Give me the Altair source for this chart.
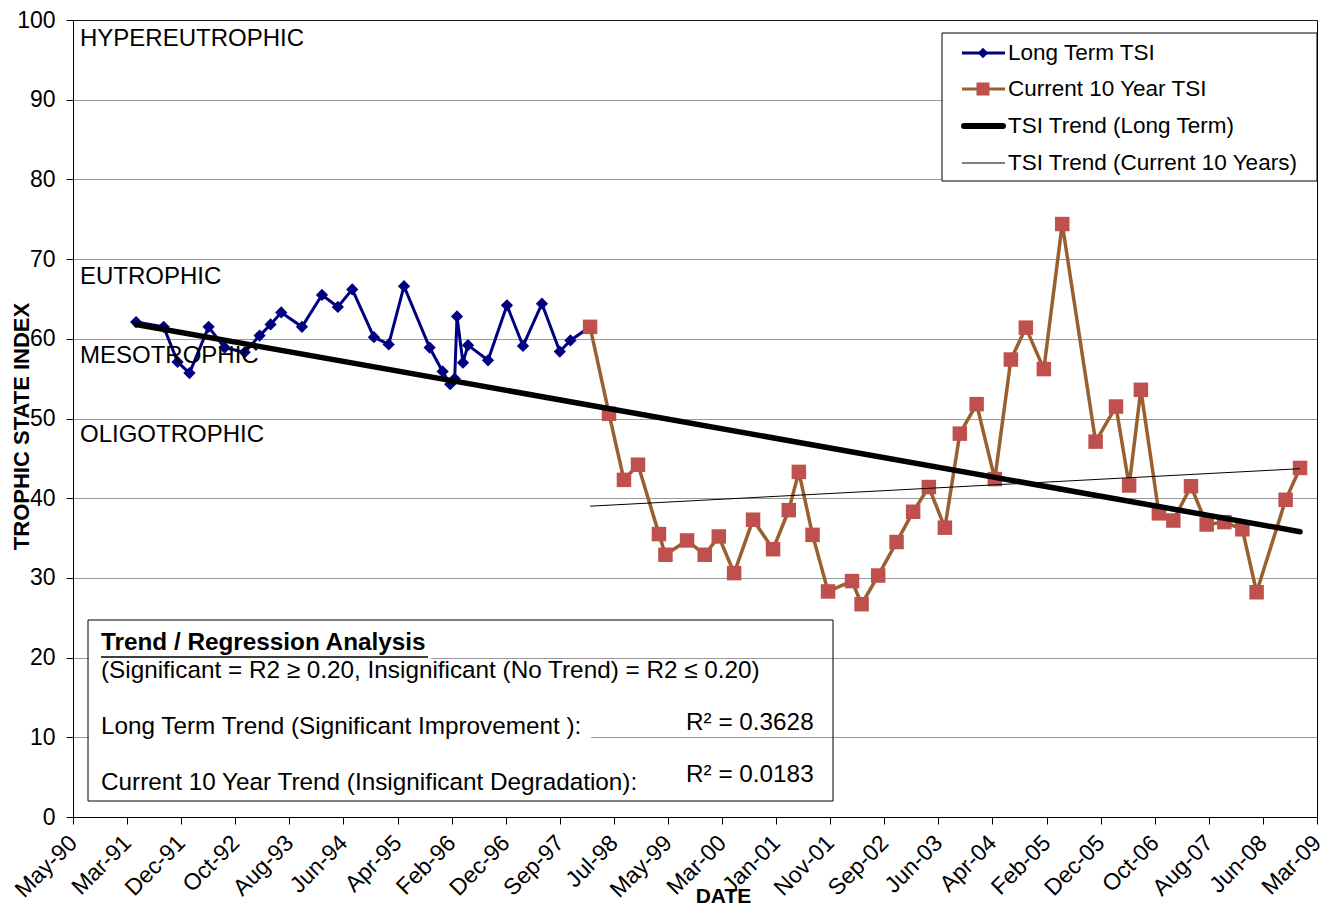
import altair as alt
import pandas as pd

FONT = "Liberation Sans, Arial, sans-serif"

# ---------------- data ----------------
blue_dates = ["1991-04-22", "1991-09-22", "1991-12-08", "1992-02-12", "1992-05-28",
              "1992-08-25", "1992-12-14", "1993-03-07", "1993-05-07", "1993-07-05",
              "1993-10-28", "1994-02-16", "1994-05-15", "1994-08-03", "1994-12-01",
              "1995-02-21", "1995-05-17", "1995-10-06", "1995-12-17", "1996-01-28",
              "1996-02-22", "1996-03-06", "1996-04-08", "1996-05-06", "1996-08-25",
              "1996-12-08", "1997-03-07", "1997-06-20", "1997-09-27", "1997-11-25",
              "1998-03-14"]
blue_tsi = [62.1, 61.5, 57.1, 55.7, 61.5,
            58.9, 58.3, 60.4, 61.8, 63.3,
            61.5, 65.5, 64.0, 66.2, 60.2,
            59.3, 66.6, 58.9, 55.9, 54.3,
            55.0, 62.8, 57.0, 59.2, 57.3,
            64.2, 59.1, 64.4, 58.4, 59.8,
            61.5]

red_dates = ["1998-03-14", "1998-06-27", "1998-09-18", "1998-12-05", "1999-03-31",
             "1999-05-06", "1999-09-03", "1999-12-10", "2000-02-26", "2000-05-21",
             "2000-09-03", "2000-12-23", "2001-03-20", "2001-05-15", "2001-07-30",
             "2001-10-24", "2002-03-06", "2002-04-28", "2002-07-29", "2002-11-08",
             "2003-02-08", "2003-05-06", "2003-08-03", "2003-10-25", "2004-01-26",
             "2004-05-06", "2004-08-03", "2004-10-25", "2005-02-02", "2005-05-15",
             "2005-11-16", "2006-03-09", "2006-05-21", "2006-07-25", "2006-11-02",
             "2007-01-21", "2007-04-29", "2007-07-25", "2007-10-31", "2008-02-08",
             "2008-04-27", "2008-10-05", "2008-12-24"]
red_tsi = [61.5, 50.6, 42.3, 44.2, 35.5,
           32.9, 34.7, 32.9, 35.2, 30.6,
           37.3, 33.6, 38.5, 43.3, 35.4,
           28.3, 29.6, 26.7, 30.3, 34.5,
           38.3, 41.4, 36.3, 48.1, 51.8,
           42.4, 57.4, 61.4, 56.2, 74.4,
           47.1, 51.5, 41.6, 53.6, 38.1,
           37.2, 41.5, 36.7, 37.0, 36.1,
           28.2, 39.8, 43.8]

trend_long_dates = ["1991-04-22", "2008-12-24"]
trend_long_tsi = [61.8, 35.8]
trend_10_dates = ["1998-03-14", "2008-12-24"]
trend_10_tsi = [39.0, 43.7]

zone_names = ["HYPEREUTROPHIC", "EUTROPHIC", "MESOTROPHIC", "OLIGOTROPHIC"]
zone_label_tsi = [97.6, 67.7, 57.8, 47.9]

legend_labels = ["Long Term TSI", "Current 10 Year TSI",
                 "TSI Trend (Long Term)", "TSI Trend (Current 10 Years)"]

box_title = "Trend / Regression Analysis"
box_rule = "(Significant = R2 \u2265 0.20, Insignificant (No Trend) = R2 \u2264 0.20)"
box_long = "Long Term Trend (Significant Improvement ):"
box_long_r2 = "R\u00b2 = 0.3628"
box_cur = "Current 10 Year Trend (Insignificant Degradation):"
box_cur_r2 = "R\u00b2 = 0.0183"

# Excel date axis: starts at serial 33000 (1990-05-07), major unit 300 days
axis_start = pd.Timestamp("1990-05-07")
tick_dates = [axis_start + pd.Timedelta(days=300 * i) for i in range(24)]


def dt(ts):
    return alt.DateTime(year=ts.year, month=ts.month, date=ts.day, utc=True)


# ---------------- frames ----------------
blue_df = pd.DataFrame({"date": blue_dates, "tsi": blue_tsi})
red_df = pd.DataFrame({"date": red_dates, "tsi": red_tsi})
tl_df = pd.DataFrame({"date": trend_long_dates, "tsi": trend_long_tsi})
t10_df = pd.DataFrame({"date": trend_10_dates, "tsi": trend_10_tsi})
zone_df = pd.DataFrame({"name": zone_names, "tsi": zone_label_tsi})

PLOT_H = 797

x_enc = alt.X(
    "date:T",
    scale=alt.Scale(type="utc", domain=[dt(tick_dates[0]), dt(tick_dates[-1])]),
    axis=alt.Axis(
        values=[dt(t) for t in tick_dates],
        format="%b-%y",
        labelAngle=-45,
        labelAlign="right",
        labelBaseline="middle",
        labelPadding=15,
        labelFontSize=23,
        labelOverlap=False,
        labelBound=False,
        tickSize=7,
        grid=False,
        title="DATE",
        titleFontSize=21,
        titleFontWeight="bold",
        titleX=650,
        titleY=79,
        titleBaseline="middle",
        titleAlign="center",
    ),
)
y_enc = alt.Y(
    "tsi:Q",
    scale=alt.Scale(domain=[0, 100], nice=False, zero=True),
    axis=alt.Axis(
        values=list(range(0, 101, 10)),
        grid=True,
        gridDash=[1, 1],
        gridColor="#333333",
        gridWidth=1,
        tickSize=7,
        labelPadding=11,
        labelFontSize=23,
        title="TROPHIC STATE INDEX",
        titleFontSize=22,
        titleFontWeight="bold",
        titleAngle=270,
        titleX=-52,
        titleY=406,
        titleAlign="center",
        titleBaseline="middle",
    ),
)

blue_line = alt.Chart(blue_df).mark_line(color="#000080", strokeWidth=3).encode(x=x_enc, y=y_enc)
blue_pts = alt.Chart(blue_df).mark_point(shape="diamond", filled=True, size=150,
                                          color="#000080", opacity=1).encode(x="date:T", y="tsi:Q")
red_line = alt.Chart(red_df).mark_line(color="#98602E", strokeWidth=3.5).encode(x="date:T", y="tsi:Q")
red_pts = alt.Chart(red_df).mark_point(shape="square", filled=True, size=210,
                                        color="#C0504D", opacity=1).encode(x="date:T", y="tsi:Q")
tl_line = alt.Chart(tl_df).mark_line(color="black", strokeWidth=5.5, strokeCap="round").encode(
    x="date:T", y="tsi:Q")
t10_line = alt.Chart(t10_df).mark_line(color="black", strokeWidth=1).encode(x="date:T", y="tsi:Q")

zones = alt.Chart(zone_df).mark_text(align="left", baseline="middle", font=FONT,
                                     fontSize=24, color="black").encode(
    x=alt.value(7), y="tsi:Q", text="name:N")

one = pd.DataFrame({"k": [0]})


def txt(s, x, y, size=24, weight="normal", align="left"):
    return alt.Chart(pd.DataFrame({"t": [s]})).mark_text(
        align=align, baseline="middle", font=FONT, fontSize=size,
        fontWeight=weight, color="black").encode(x=alt.value(x), y=alt.value(y), text="t:N")


def box(x1, x2, y1, y2, fill="white", stroke="black", sw=1):
    return alt.Chart(one).mark_rect(fill=fill, stroke=stroke, strokeWidth=sw).encode(
        x=alt.value(x1), x2=alt.value(x2), y=alt.value(y1), y2=alt.value(y2))


def hline(x1, x2, y, color="black", sw=1, cap="butt"):
    return alt.Chart(one).mark_rule(color=color, strokeWidth=sw, strokeCap=cap).encode(
        x=alt.value(x1), x2=alt.value(x2), y=alt.value(y))


# ---------------- legend (pixel layout inside the plot area) ----------------
leg_ys = [33, 69, 106, 143]
legend = [
    box(869, 1244, 13, 161),
    hline(889, 932, leg_ys[0], color="#000080", sw=3),
    alt.Chart(one).mark_point(shape="diamond", filled=True, size=110, color="#000080",
                              opacity=1).encode(x=alt.value(910), y=alt.value(leg_ys[0])),
    hline(889, 932, leg_ys[1], color="#98602E", sw=3),
    alt.Chart(one).mark_point(shape="square", filled=True, size=170, color="#C0504D",
                              opacity=1).encode(x=alt.value(910), y=alt.value(leg_ys[1])),
    hline(891, 930, leg_ys[2], color="black", sw=6, cap="round"),
    hline(889, 932, leg_ys[3], color="black", sw=1),
]
for lab, yy in zip(legend_labels, leg_ys):
    legend.append(txt(lab, 935, yy, size=22.5))

# ---------------- regression text box ----------------
textbox = [
    box(15, 760, 600, 781, fill="transparent"),
    box(16, 358, 609, 640, fill="white", stroke="white", sw=0),
    box(16, 518, 693, 722, fill="white", stroke="white", sw=0),
    txt(box_title, 28, 623, size=24.3, weight="bold"),
    hline(28, 355, 637, sw=1.5),
    txt(box_rule, 28, 651, size=24.3),
    txt(box_long, 28, 707, size=24.3),
    txt(box_long_r2, 613, 703, size=24.3),
    txt(box_cur, 28, 763, size=24.3),
    txt(box_cur_r2, 613, 755, size=24.3),
]

chart = alt.layer(
    blue_line, blue_pts, red_line, red_pts, tl_line, t10_line, zones,
    *legend, *textbox
).properties(
    width=1244, height=PLOT_H, autosize="none",
    padding={"left": 65, "top": 12, "right": 12, "bottom": 92},
).configure(
    font=FONT,
).configure_view(
    stroke="black", strokeWidth=1,
).configure_axis(
    labelFont=FONT, titleFont=FONT, labelColor="black", titleColor="black",
    domainColor="black", tickColor="black", domainWidth=1, tickWidth=1,
)

chart.save("out.html", embed_options={"renderer": "svg", "actions": False})
